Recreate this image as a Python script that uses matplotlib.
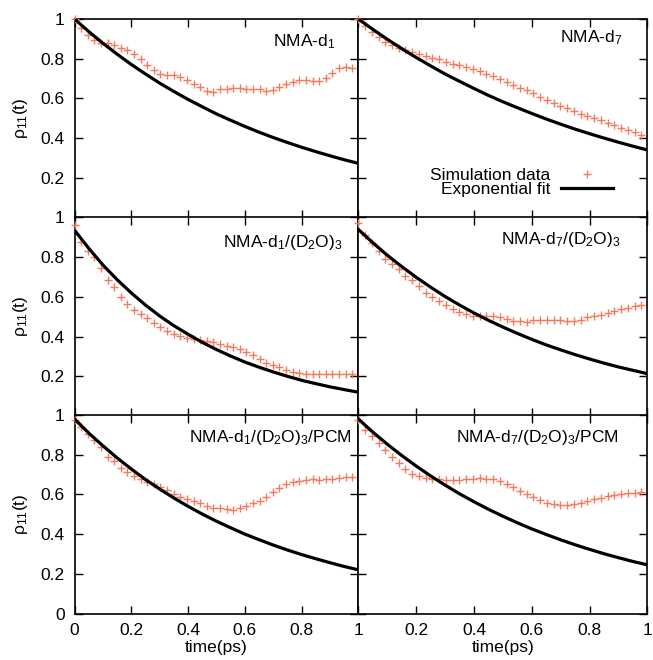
import numpy as np
import matplotlib
matplotlib.use("Agg")
import matplotlib.pyplot as plt
from matplotlib.lines import Line2D

plt.rcParams['font.family'] = ['Liberation Sans', 'DejaVu Sans']
plt.rcParams['mathtext.fontset'] = 'custom'
plt.rcParams['mathtext.rm'] = 'Liberation Sans'
plt.rcParams['mathtext.it'] = 'Liberation Sans:italic'

# simulation sampled every ~23 fs
TIME = np.arange(43) * 0.0233

SIM_D1 = [1.000, 0.955, 0.920, 0.895, 0.880, 0.877, 0.868, 0.856, 0.842, 0.825,
          0.800, 0.770, 0.742, 0.725, 0.718, 0.716, 0.708, 0.693, 0.672, 0.655,
          0.637, 0.634, 0.645, 0.648, 0.651, 0.650, 0.646, 0.646, 0.646, 0.639,
          0.643, 0.655, 0.672, 0.685, 0.693, 0.693, 0.689, 0.690, 0.705, 0.728,
          0.752, 0.757, 0.752]
SIM_D7 = [1.000, 0.965, 0.935, 0.908, 0.883, 0.867, 0.853, 0.844, 0.835, 0.824,
          0.814, 0.806, 0.796, 0.784, 0.774, 0.766, 0.758, 0.749, 0.740, 0.725,
          0.712, 0.699, 0.683, 0.666, 0.654, 0.640, 0.626, 0.609, 0.592, 0.578,
          0.564, 0.552, 0.535, 0.522, 0.512, 0.502, 0.491, 0.478, 0.465, 0.452,
          0.442, 0.430, 0.418]
SIM_D1_W = [0.960, 0.875, 0.830, 0.800, 0.745, 0.685, 0.650, 0.600, 0.565, 0.535,
            0.515, 0.492, 0.470, 0.446, 0.428, 0.412, 0.404, 0.395, 0.390, 0.385,
            0.378, 0.371, 0.363, 0.355, 0.347, 0.336, 0.320, 0.305, 0.285, 0.268,
            0.257, 0.246, 0.233, 0.223, 0.216, 0.212, 0.210, 0.210, 0.210, 0.210,
            0.211, 0.210, 0.211]
SIM_D7_W = [0.970, 0.910, 0.870, 0.830, 0.790, 0.765, 0.742, 0.707, 0.685, 0.655,
            0.622, 0.597, 0.578, 0.558, 0.538, 0.522, 0.513, 0.506, 0.505, 0.505,
            0.504, 0.500, 0.488, 0.481, 0.477, 0.476, 0.482, 0.484, 0.484, 0.484,
            0.482, 0.481, 0.478, 0.486, 0.497, 0.502, 0.508, 0.520, 0.531, 0.537,
            0.545, 0.555, 0.560]
SIM_D1_PCM = [0.975, 0.940, 0.905, 0.874, 0.840, 0.790, 0.768, 0.735, 0.712, 0.695,
              0.676, 0.660, 0.650, 0.637, 0.620, 0.604, 0.588, 0.576, 0.567, 0.555,
              0.540, 0.530, 0.530, 0.524, 0.523, 0.531, 0.543, 0.558, 0.569, 0.588,
              0.614, 0.633, 0.650, 0.661, 0.669, 0.674, 0.676, 0.673, 0.676, 0.680,
              0.684, 0.688, 0.690]
SIM_D7_PCM = [0.975, 0.925, 0.892, 0.858, 0.825, 0.790, 0.760, 0.730, 0.705, 0.692,
              0.681, 0.676, 0.676, 0.673, 0.673, 0.675, 0.677, 0.679, 0.681, 0.679,
              0.676, 0.667, 0.654, 0.637, 0.618, 0.600, 0.587, 0.572, 0.559, 0.550,
              0.547, 0.547, 0.551, 0.558, 0.568, 0.577, 0.583, 0.590, 0.596, 0.601,
              0.605, 0.608, 0.614]

# exponential fit curves, read every 0.05 ps
FIT_T = [0.00, 0.05, 0.10, 0.15, 0.20, 0.25, 0.30, 0.35, 0.40, 0.45, 0.50,
         0.55, 0.60, 0.65, 0.70, 0.75, 0.80, 0.85, 0.90, 0.95, 1.00]
FIT_D1 = [1.000, 0.937, 0.878, 0.823, 0.771, 0.723, 0.677, 0.635, 0.595, 0.558, 0.522,
          0.490, 0.459, 0.430, 0.403, 0.378, 0.354, 0.332, 0.311, 0.291, 0.273]
FIT_D7 = [1.000, 0.948, 0.898, 0.851, 0.806, 0.764, 0.723, 0.686, 0.650, 0.615, 0.583,
          0.553, 0.524, 0.496, 0.470, 0.445, 0.422, 0.400, 0.379, 0.359, 0.340]
FIT_D1_W = [0.936, 0.845, 0.761, 0.687, 0.620, 0.559, 0.504, 0.455, 0.412, 0.371, 0.335,
            0.302, 0.272, 0.246, 0.222, 0.200, 0.180, 0.163, 0.147, 0.133, 0.120]
FIT_D7_W = [0.940, 0.873, 0.810, 0.753, 0.699, 0.649, 0.602, 0.559, 0.519, 0.482, 0.448,
            0.416, 0.386, 0.358, 0.333, 0.309, 0.287, 0.266, 0.247, 0.230, 0.213]
FIT_D1_PCM = [0.980, 0.909, 0.845, 0.784, 0.728, 0.675, 0.627, 0.582, 0.540, 0.501, 0.465,
              0.432, 0.400, 0.372, 0.345, 0.320, 0.297, 0.276, 0.256, 0.237, 0.220]
FIT_D7_PCM = [0.980, 0.914, 0.853, 0.796, 0.743, 0.693, 0.647, 0.603, 0.563, 0.525, 0.490,
              0.457, 0.426, 0.398, 0.371, 0.346, 0.323, 0.301, 0.281, 0.262, 0.245]

TITLES = [r'NMA-d$_1$', r'NMA-d$_7$',
          r'NMA-d$_1$/(D$_2$O)$_3$', r'NMA-d$_7$/(D$_2$O)$_3$',
          r'NMA-d$_1$/(D$_2$O)$_3$/PCM', r'NMA-d$_7$/(D$_2$O)$_3$/PCM']
SIMS = [SIM_D1, SIM_D7, SIM_D1_W, SIM_D7_W, SIM_D1_PCM, SIM_D7_PCM]
FITS = [FIT_D1, FIT_D7, FIT_D1_W, FIT_D7_W, FIT_D1_PCM, FIT_D7_PCM]
TICKS = [0, 0.2, 0.4, 0.6, 0.8, 1]
TICK_LABELS = ['0', '0.2', '0.4', '0.6', '0.8', '1']

SIM_COLOR = '#f47a5e'
W, H = 653, 660

# panel title positions (axes fraction, right end of text)
TITLE_POS = [(0.918, 0.884), (0.913, 0.904), (0.946, 0.872),
             (0.906, 0.887), (0.978, 0.889), (0.900, 0.889)]

fig = plt.figure(figsize=(W / 100, H / 100), dpi=100)
col_x = [(74.5, 358.3), (358.3, 647.5)]
row_y = [(19.0, 217.5), (217.5, 416.0), (415.0, 613.5)]

for k in range(6):
    r, c = divmod(k, 2)
    x0, x1 = col_x[c]
    y0, y1 = row_y[r]
    ax = fig.add_axes([x0 / W, 1 - y1 / H, (x1 - x0) / W, (y1 - y0) / H])
    ax.plot(TIME, SIMS[k], ls='none', marker='+', ms=5.5, mew=1.0,
            color=SIM_COLOR, clip_on=False, zorder=3)
    ax.plot(FIT_T, FITS[k], color='black', lw=2.3, zorder=4)
    ax.set_xlim(0, 1)
    ax.set_ylim(0, 1)
    ax.set_xticks(TICKS)
    ax.set_yticks(TICKS)
    ax.tick_params(direction='in', length=6, width=1.0, top=True, right=True,
                   labelsize=12.5, pad=7)
    for s in ax.spines.values():
        s.set_linewidth(1.2)

    if c == 0:
        ylab = TICK_LABELS if r == 2 else [''] + TICK_LABELS[1:]
        ax.set_yticklabels(ylab)
        ax.set_ylabel(r'ρ$_{11}$(t)', fontsize=12.5, labelpad=8)
    else:
        ax.set_yticklabels([])
    if r == 2:
        xlab = TICK_LABELS if c == 0 else [''] + TICK_LABELS[1:]
        ax.set_xticklabels(xlab)
        ax.set_xlabel('time(ps)', fontsize=12.5, labelpad=1)
    else:
        ax.set_xticklabels([])

    tx, ty = TITLE_POS[k]
    ax.text(tx, ty, TITLES[k], transform=ax.transAxes, ha='right', va='center',
            fontsize=12.5)

    if k == 1:
        handles = [Line2D([], [], ls='none', marker='+', ms=5.5, mew=1.0, color=SIM_COLOR),
                   Line2D([], [], color='black', lw=2.3)]
        ax.legend(handles, ['Simulation data', 'Exponential fit'],
                  loc='upper right', bbox_to_anchor=(0.881, 0.250),
                  frameon=False, markerfirst=False, fontsize=12.5,
                  handlelength=3.0, handletextpad=0.6, labelspacing=-0.05,
                  borderpad=0, borderaxespad=0)

fig.savefig('out.png', dpi=100)
